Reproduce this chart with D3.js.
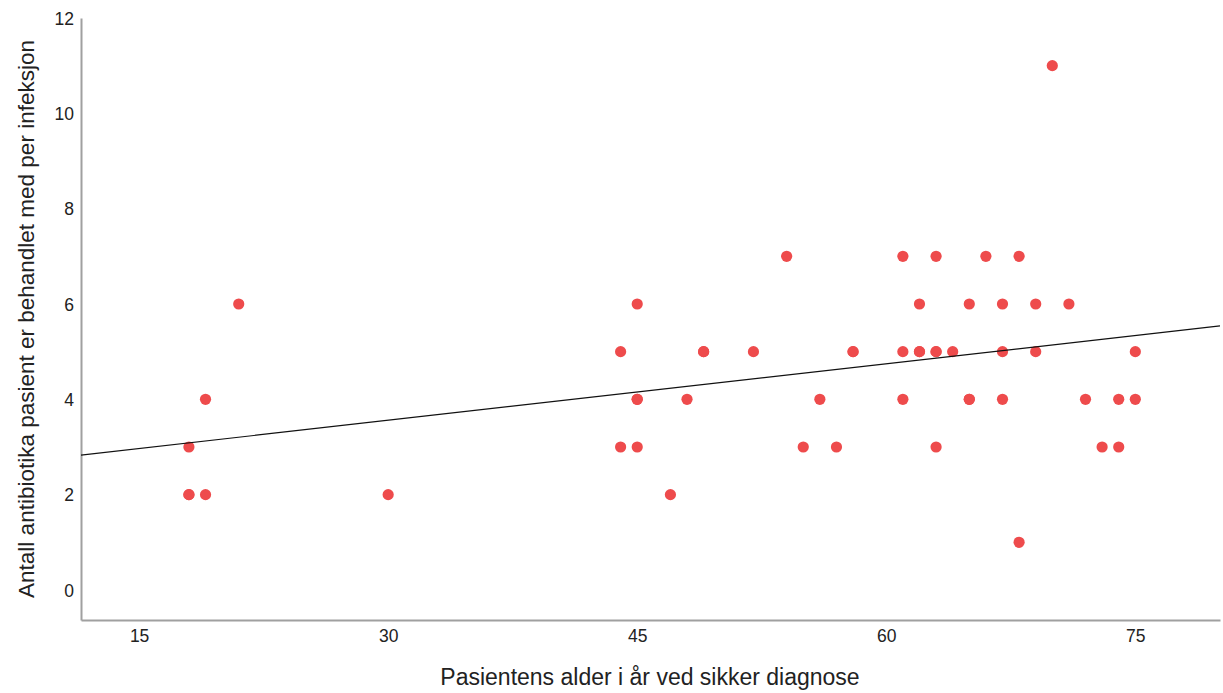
<!DOCTYPE html>
<html><head><meta charset="utf-8">
<script src="https://cdn.jsdelivr.net/npm/d3@7"></script>
<style>body{margin:0;background:#fff}svg{display:block}text{font-family:"Liberation Sans",Arial,sans-serif;fill:#222}</style>
</head><body>
<svg id="c" width="1223" height="693"></svg>
<script>
const ages = [18,18,18,19,19,21,30,
  44,44,45,45,45,45,47,48,49,49,52,54,55,56,57,58,58,
  61,61,61,62,62,62,63,63,63,63,64,65,65,65,66,67,67,67,68,68,69,69,70,71,72,73,74,74,75,75];
const counts = [3,2,2,4,2,6,2,
  5,3,6,4,4,3,2,4,5,5,5,7,3,4,3,5,5,
  7,5,4,6,5,5,7,5,3,5,5,6,4,4,7,6,5,4,7,1,6,5,11,6,4,3,4,3,5,4];
const fitX = [11.5, 80.1];
const fitY = [2.83, 5.54];
const xTicks = [15,30,45,60,75];
const yTicks = [0,2,4,6,8,10,12];

const svg = d3.select("#c");
const m = {l:81, t:18, r:3, b:73};
const W = 1223 - m.l - m.r, H = 693 - m.t - m.b;
const g = svg.append("g").attr("transform",`translate(${m.l},${m.t})`);
const x = d3.scaleLinear().domain([11.5, 80.1]).range([0, W]);
const y = d3.scaleLinear().domain([-0.63, 12]).range([H, 0]);

const xa = g.append("g").attr("transform",`translate(0,${H})`)
  .call(d3.axisBottom(x).tickValues(xTicks).tickSize(0).tickPadding(10));
const ya = g.append("g").call(d3.axisLeft(y).tickValues(yTicks).tickSize(0).tickPadding(7));
[xa, ya].forEach(a => {
  a.attr("font-size", null).attr("font-family", null);
  a.select(".domain").attr("stroke","#a0a0a0").attr("stroke-width",2);
  a.selectAll("text").style("font-size","17.5px").attr("fill","#222");
});
ya.selectAll(".tick text").attr("dy","0.35em");

g.selectAll("circle").data(ages.map((a,i)=>[a,counts[i]])).join("circle")
  .attr("cx",d=>x(d[0])).attr("cy",d=>y(d[1])).attr("r",5.6).attr("fill","#ee4b4c");

g.append("line").attr("x1",x(fitX[0])).attr("y1",y(fitY[0])).attr("x2",x(fitX[1])).attr("y2",y(fitY[1]))
  .attr("stroke","#111").attr("stroke-width",1.2);

svg.append("text").attr("x",650).attr("y",685).attr("text-anchor","middle")
  .style("font-size","23px").text("Pasientens alder i år ved sikker diagnose");
svg.append("text").attr("transform","translate(34,319) rotate(-90)").attr("text-anchor","middle")
  .style("font-size","22.5px").text("Antall antibiotika pasient er behandlet med per infeksjon");
</script>
</body></html>
